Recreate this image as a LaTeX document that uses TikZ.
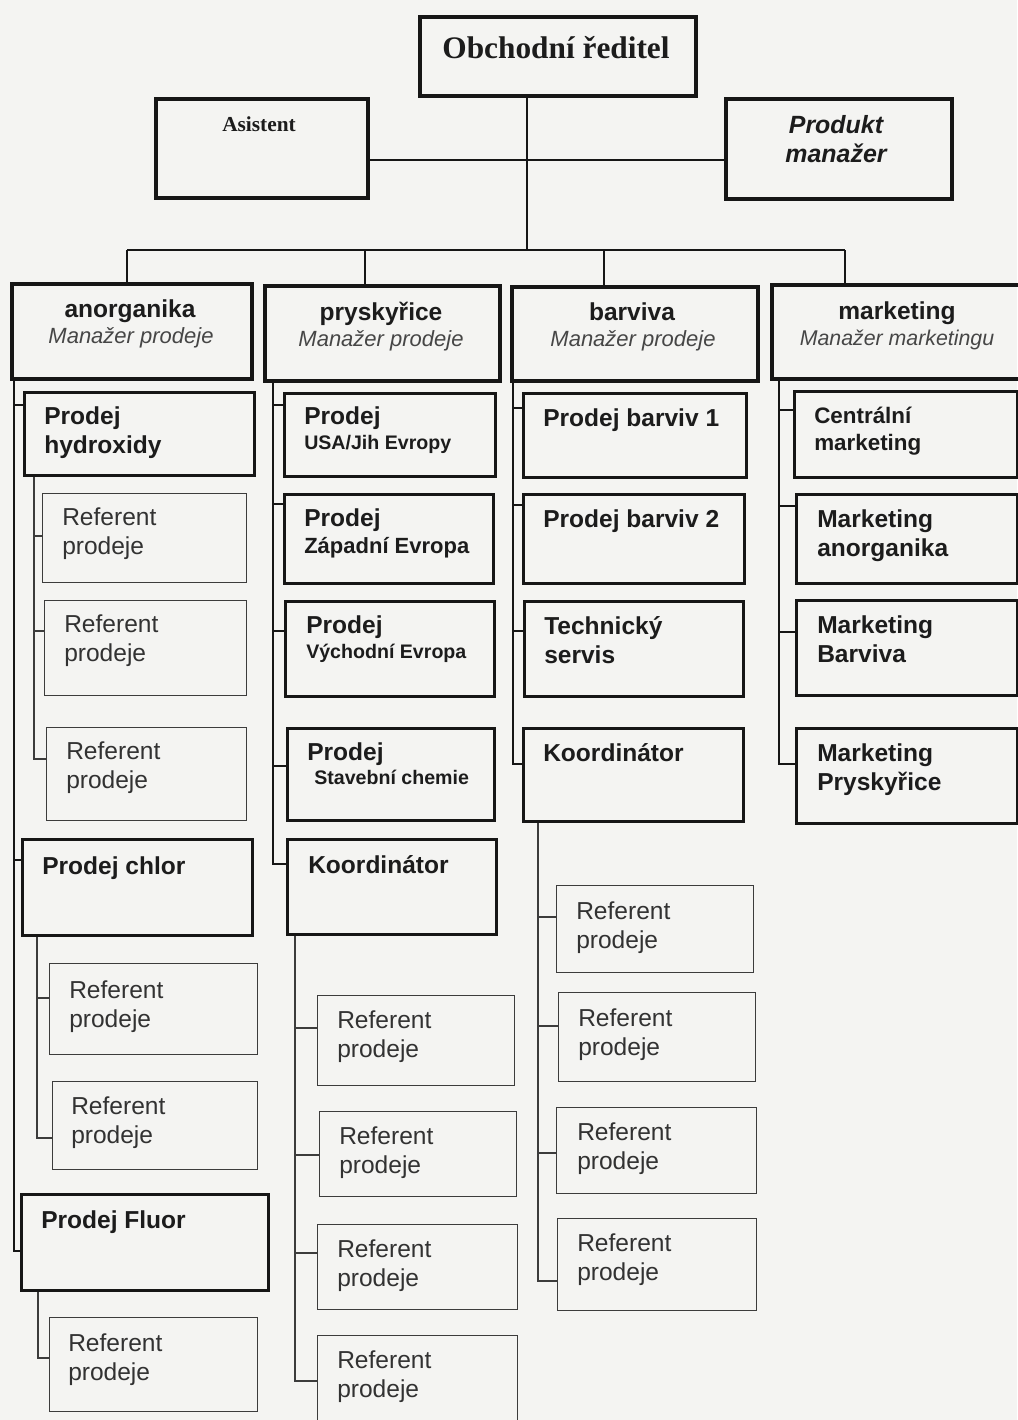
\documentclass[tikz,border=0pt]{standalone}
\usepackage{fontspec}
\setmainfont{Liberation Sans}
\newfontfamily\serifrm{Liberation Serif}
\usetikzlibrary{calc}
\definecolor{bgc}{RGB}{244,244,242}
\definecolor{ink}{RGB}{22,22,22}
\definecolor{refink}{RGB}{60,60,60}
\definecolor{txtc}{RGB}{28,28,28}
\definecolor{reftxt}{RGB}{50,50,50}
\definecolor{itc}{RGB}{70,70,70}
\newcommand\mybox[6]{\pgfmathsetmacro\bw{(#5-#3)*0.75}\pgfmathsetmacro\bh{(#6-#4)*0.75}%
  \node[#1,minimum width=\bw pt,minimum height=\bh pt,anchor=north west] (#2) at (#3,#4) {};}
% text: name, x, baseline y, style, text  (left aligned)
\newcommand\lt[5]{\node[#4,anchor=north west] (#1) at (#2,#3-24) {\rule{0pt}{18pt}#5};}
% centred text
\newcommand\ct[5]{\node[#4,anchor=north] (#1) at (#2,#3-24) {\rule{0pt}{18pt}#5};}
\begin{document}
\begin{tikzpicture}[x=0.75pt,y=-0.75pt,
  topbox/.style={draw=ink,line width=3pt,inner sep=0pt},
  headbox/.style={draw=ink,line width=3pt,inner sep=0pt},
  subbox/.style={draw=ink,line width=2.2pt,inner sep=0pt},
  refbox/.style={draw=refink,line width=1.1pt,inner sep=0pt},
  conn/.style={draw=ink,line width=1.6pt},
  trunk/.style={draw=ink,line width=2pt},
  subtrunk/.style={draw=refink,line width=1.1pt},
  tb/.style={inner sep=0pt,align=left,text=txtc,font=\fontsize{18.4}{21.75}\selectfont\bfseries},
  tbc/.style={tb,align=center},
  tr/.style={inner sep=0pt,align=left,text=reftxt,font=\fontsize{18.4}{21.75}\selectfont},
  ts/.style={inner sep=0pt,align=left,text=txtc,font=\fontsize{14.7}{18}\selectfont\bfseries},
  tsz/.style={inner sep=0pt,align=left,text=txtc,font=\fontsize{16.5}{20}\selectfont\bfseries},
  tcm/.style={inner sep=0pt,align=left,text=txtc,font=\fontsize{16.8}{20.25}\selectfont\bfseries},
  ti/.style={inner sep=0pt,align=center,text=itc,font=\fontsize{16.5}{20}\selectfont\itshape},
  tim/.style={inner sep=0pt,align=center,text=itc,font=\fontsize{16}{20}\selectfont\itshape},
  tbi/.style={inner sep=0pt,align=center,text=txtc,font=\fontsize{18.7}{21.75}\selectfont\bfseries\itshape},
  tser/.style={inner sep=0pt,align=center,text=txtc,font=\fontsize{23.5}{28}\serifrm\bfseries},
  tserb/.style={inner sep=0pt,align=center,text=txtc,font=\fontsize{16}{20}\serifrm\bfseries},
]
\fill[bgc] (0,0) rectangle (1017,1420);
\useasboundingbox (0,0) rectangle (1017,1420);

% ---------- top level ----------
\mybox{topbox}{obch}{418}{15}{694}{94}
\mybox{topbox}{asis}{154}{97}{366}{196}
\mybox{topbox}{prod}{724}{97}{950}{197}
\ct{tobch}{556}{58}{tser}{Obchodní ředitel}
\ct{tasis}{259}{131}{tserb}{Asistent}
\ct{tprod}{836}{133}{tbi}{Produkt\\manažer}

% ---------- column headers ----------
\mybox{headbox}{anor}{10}{282}{250}{377}
\mybox{headbox}{pry}{263}{284}{498}{379}
\mybox{headbox}{barv}{510}{285}{756}{379}
\mybox{headbox}{mark}{770}{283}{1030}{377}
\ct{tanor}{130}{317}{tbc}{anorganika}
\ct{tanor2}{131}{343}{ti}{Manažer prodeje}
\ct{tpry}{381}{320}{tbc}{pryskyřice}
\ct{tpry2}{381}{346}{ti}{Manažer prodeje}
\ct{tbarv}{632}{320}{tbc}{barviva}
\ct{tbarv2}{633}{346}{ti}{Manažer prodeje}
\ct{tmark}{897}{319}{tbc}{marketing}
\ct{tmark2}{897}{345}{tim}{Manažer marketingu}

% ---------- column 1: anorganika ----------
\mybox{subbox}{hyd}{23}{391}{253}{474}
\mybox{refbox}{ra1}{42}{493}{246}{582}
\mybox{refbox}{ra2}{44}{600}{246}{695}
\mybox{refbox}{ra3}{46}{727}{246}{820}
\mybox{subbox}{chlor}{21}{838}{251}{934}
\mybox{refbox}{ra4}{49}{963}{257}{1054}
\mybox{refbox}{ra5}{52}{1081}{257}{1169}
\mybox{subbox}{fluor}{20}{1193}{267}{1289}
\mybox{refbox}{ra6}{49}{1317}{257}{1411}
\lt{thyd}{44}{424}{tb}{Prodej\\hydroxidy}
\lt{tra1}{62}{525}{tr}{Referent\\prodeje}
\lt{tra2}{64}{632}{tr}{Referent\\prodeje}
\lt{tra3}{66}{759}{tr}{Referent\\prodeje}
\lt{tchlor}{42}{874}{tb}{Prodej chlor}
\lt{tra4}{69}{998}{tr}{Referent\\prodeje}
\lt{tra5}{71}{1114}{tr}{Referent\\prodeje}
\lt{tfluor}{41}{1228}{tb}{Prodej Fluor}
\lt{tra6}{68}{1351}{tr}{Referent\\prodeje}

% ---------- column 2: pryskyrice ----------
\mybox{subbox}{usa}{283}{392}{494}{475}
\mybox{subbox}{zap}{283}{493}{492}{582}
\mybox{subbox}{vych}{284}{600}{493}{695}
\mybox{subbox}{stav}{286}{727}{493}{819}
\mybox{subbox}{koa}{286}{838}{495}{933}
\mybox{refbox}{rp1}{317}{995}{514}{1085}
\mybox{refbox}{rp2}{319}{1111}{516}{1196}
\mybox{refbox}{rp3}{317}{1224}{517}{1309}
\mybox{refbox}{rp4}{317}{1335}{517}{1432}
\lt{tusa}{304}{424}{tb}{Prodej}
\lt{tusa2}{304}{449}{ts}{USA/Jih Evropy}
\lt{tzap}{304}{526}{tb}{Prodej}
\lt{tzap2}{304}{553}{tsz}{Západní Evropa}
\lt{tvych}{306}{633}{tb}{Prodej}
\lt{tvych2}{306}{658}{ts}{Východní Evropa}
\lt{tstav}{307}{760}{tb}{Prodej}
\lt{tstav2}{314}{784}{ts}{Stavební chemie}
\lt{tkoa}{308}{873}{tb}{Koordinátor}
\lt{trp1}{337}{1028}{tr}{Referent\\prodeje}
\lt{trp2}{339}{1144}{tr}{Referent\\prodeje}
\lt{trp3}{337}{1257}{tr}{Referent\\prodeje}
\lt{trp4}{337}{1368}{tr}{Referent\\prodeje}

% ---------- column 3: barviva ----------
\mybox{subbox}{bv1}{522}{392}{745}{476}
\mybox{subbox}{bv2}{522}{493}{743}{582}
\mybox{subbox}{tech}{523}{600}{742}{695}
\mybox{subbox}{kob}{522}{727}{742}{820}
\mybox{refbox}{rb1}{556}{885}{753}{972}
\mybox{refbox}{rb2}{558}{992}{755}{1081}
\mybox{refbox}{rb3}{556}{1107}{756}{1193}
\mybox{refbox}{rb4}{557}{1218}{756}{1310}
\lt{tbv1}{543}{426}{tb}{Prodej barviv 1}
\lt{tbv2}{543}{527}{tb}{Prodej barviv 2}
\lt{ttech}{544}{634}{tb}{Technický\\servis}
\lt{tkob}{543}{761}{tb}{Koordinátor}
\lt{trb1}{576}{919}{tr}{Referent\\prodeje}
\lt{trb2}{578}{1026}{tr}{Referent\\prodeje}
\lt{trb3}{577}{1140}{tr}{Referent\\prodeje}
\lt{trb4}{577}{1251}{tr}{Referent\\prodeje}

% ---------- column 4: marketing ----------
\mybox{subbox}{cen}{793}{390}{1016}{476}
\mybox{subbox}{man}{795}{493}{1016}{582}
\mybox{subbox}{mba}{795}{599}{1016}{694}
\mybox{subbox}{mpr}{795}{727}{1016}{822}
\lt{tcen}{814}{423}{tcm}{Centrální\\marketing}
\lt{tman}{817}{527}{tb}{Marketing\\anorganika}
\lt{tmba}{817}{633}{tb}{Marketing\\Barviva}
\lt{tmpr}{817}{761}{tb}{Marketing\\Pryskyřice}

% ---------- connectors: top ----------
\coordinate (hub) at (527,250);
\coordinate (mid) at (527,160);
\coordinate (d1) at (127,250);
\coordinate (d2) at (365,250);
\coordinate (d3) at (604,250);
\coordinate (d4) at (845,250);
\draw[conn] (obch.south -| hub) -- (hub);
\draw[conn] (asis.east |- mid) -- (prod.west |- mid);
\draw[conn] (d1) -- (d4);
\draw[conn] (d1) -- (d1 |- anor.north);
\draw[conn] (d2) -- (d2 |- pry.north);
\draw[conn] (d3) -- (d3 |- barv.north);
\draw[conn] (d4) -- (d4 |- mark.north);

% ---------- connectors: column 1 ----------
\draw[trunk] (anor.south -| 14,0) -- (14,1251) -- (fluor.west |- 14,1251);
\draw[trunk] (14,405) -- (hyd.west |- 14,405);
\draw[trunk] (14,860) -- (chlor.west |- 14,860);
\draw[subtrunk] (hyd.south -| 34,0) -- (34,759) -- (ra3.west |- 34,759);
\draw[subtrunk] (34,536) -- (ra1.west |- 34,536);
\draw[subtrunk] (34,631) -- (ra2.west |- 34,631);
\draw[subtrunk] (chlor.south -| 37,0) -- (37,1138) -- (ra5.west |- 37,1138);
\draw[subtrunk] (37,998) -- (ra4.west |- 37,998);
\draw[subtrunk] (fluor.south -| 38,0) -- (38,1358) -- (ra6.west |- 38,1358);

% ---------- connectors: column 2 ----------
\draw[trunk] (pry.south -| 273,0) -- (273,864) -- (koa.west |- 273,864);
\draw[trunk] (273,405) -- (usa.west |- 273,405);
\draw[trunk] (273,504) -- (zap.west |- 273,504);
\draw[trunk] (273,631) -- (vych.west |- 273,631);
\draw[trunk] (273,766) -- (stav.west |- 273,766);
\draw[subtrunk] (koa.south -| 295,0) -- (295,1381) -- (rp4.west |- 295,1381);
\draw[subtrunk] (295,1028) -- (rp1.west |- 295,1028);
\draw[subtrunk] (295,1155) -- (rp2.west |- 295,1155);
\draw[subtrunk] (295,1253) -- (rp3.west |- 295,1253);

% ---------- connectors: column 3 ----------
\draw[trunk] (barv.south -| 513,0) -- (513,764) -- (kob.west |- 513,764);
\draw[trunk] (513,408) -- (bv1.west |- 513,408);
\draw[trunk] (513,505) -- (bv2.west |- 513,505);
\draw[trunk] (513,631) -- (tech.west |- 513,631);
\draw[subtrunk] (kob.south -| 538,0) -- (538,1281) -- (rb4.west |- 538,1281);
\draw[subtrunk] (538,917) -- (rb1.west |- 538,917);
\draw[subtrunk] (538,1026) -- (rb2.west |- 538,1026);
\draw[subtrunk] (538,1153) -- (rb3.west |- 538,1153);

% ---------- connectors: column 4 ----------
\draw[trunk] (mark.south -| 779,0) -- (779,764) -- (mpr.west |- 779,764);
\draw[trunk] (779,410) -- (cen.west |- 779,410);
\draw[trunk] (779,506) -- (man.west |- 779,506);
\draw[trunk] (779,632) -- (mba.west |- 779,632);
\end{tikzpicture}
\end{document}
